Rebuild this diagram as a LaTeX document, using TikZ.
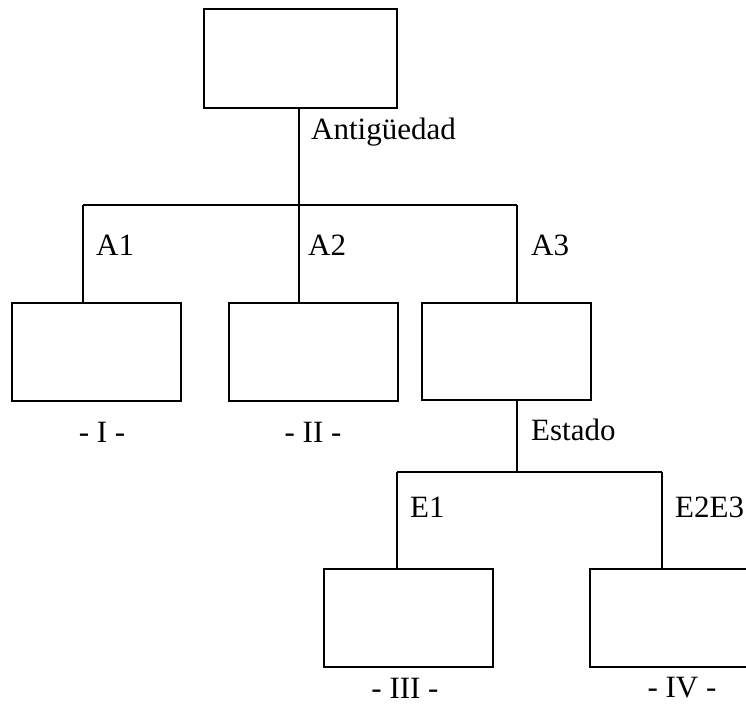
\documentclass[tikz,border=0pt]{standalone}
\usepackage{fontspec}
\setmainfont{Liberation Serif}
\begin{document}
\begin{tikzpicture}[x=1pt,y=-1pt,
  box/.style={draw,line width=1.6pt,minimum width=169pt,minimum height=98pt,inner sep=0pt,anchor=north west},
  wire/.style={line width=1.4pt},
  lbl/.style={font=\fontsize{31}{35}\selectfont,inner sep=0pt,anchor=west},
  tag/.style={font=\fontsize{31}{35}\selectfont,inner sep=0pt}]
\useasboundingbox (0,0) rectangle (746,704);

% boxes
\node[box,minimum width=193pt,minimum height=99pt] (root) at (203,8) {};
\node[box] (b1) at (11,302) {};
\node[box] (b2) at (228,302) {};
\node[box,minimum height=97pt] (b3) at (421,302) {};
\node[box] (b4) at (323,568) {};
\node[box] (b5) at (589,568) {};

% junction points
\coordinate (j0) at (299,107);
\coordinate (h0) at (299,205);
\coordinate (h1) at (83,205);
\coordinate (h3) at (517,205);
\coordinate (k0) at (517,399);
\coordinate (g0) at (517,472);
\coordinate (g1) at (397,472);
\coordinate (g2) at (662,472);

% first split
\draw[wire] (j0) -- (h0);
\draw[wire] (h1) -- (h3);
\draw[wire] (h1) -- (h1 |- b1.north);
\draw[wire] (h0) -- (h0 |- b2.north);
\draw[wire] (h3) -- (h3 |- b3.north);

% second split
\draw[wire] (k0) -- (g0);
\draw[wire] (g1) -- (g2);
\draw[wire] (g1) -- (g1 |- b4.north);
\draw[wire] (g2) -- (g2 |- b5.north);

% branch labels
\node[lbl] (lant) at (311,132) {Antigüedad};
\node[lbl] (la1) at (96,245) {A1};
\node[lbl] (la2) at (308,245) {A2};
\node[lbl] (la3) at (531,245) {A3};
\node[lbl] (lest) at (531,430) {Estado};
\node[lbl] (le1) at (410,507) {E1};
\node[lbl] (le2) at (675,507) {E2E3};

% group tags
\node[tag] (t1) at (102,432) {- I -};
\node[tag] (t2) at (313,432) {- II -};
\node[tag] (t3) at (405,688) {- III -};
\node[tag] (t4) at (682,688) {- IV -};
\end{tikzpicture}
\end{document}
